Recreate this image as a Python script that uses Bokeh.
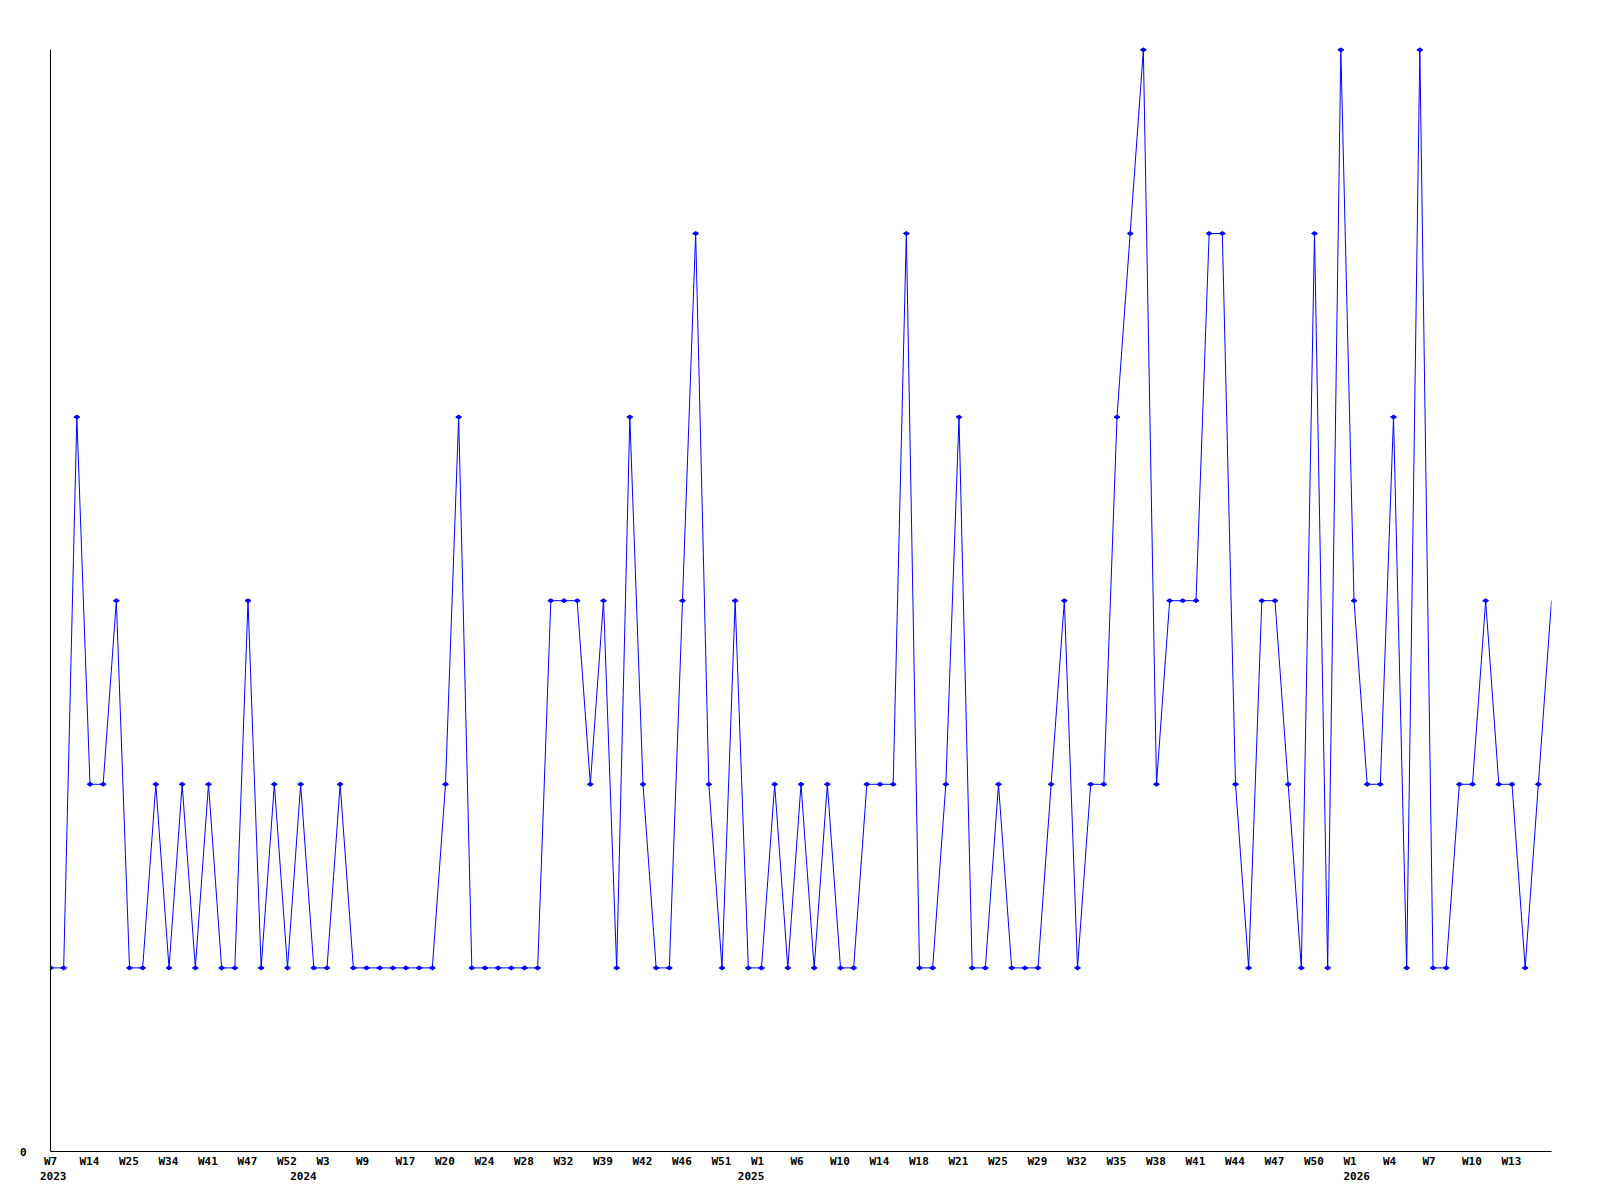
import math
from bokeh.plotting import figure
from bokeh.models import Range1d, LinearAxis, FixedTicker
from bokeh.embed import file_html
from bokeh.resources import INLINE

# ---- data ----
values = [
    1, 1, 4, 2, 2, 3, 1, 1, 2, 1, 2, 1, 2, 1, 1, 3, 1, 2, 1, 2,
    1, 1, 2, 1, 1, 1, 1, 1, 1, 1, 2, 4, 1, 1, 1, 1, 1, 1, 3, 3,
    3, 2, 3, 1, 4, 2, 1, 1, 3, 5, 2, 1, 3, 1, 1, 2, 1, 2, 1, 2,
    1, 1, 2, 2, 2, 5, 1, 1, 2, 4, 1, 1, 2, 1, 1, 1, 2, 3, 1, 2,
    2, 4, 5, 6, 2, 3, 3, 3, 5, 5, 2, 1, 3, 3, 2, 1, 5, 1, 6, 3,
    2, 2, 4, 1, 6, 1, 1, 2, 2, 3, 2, 2, 1, 2, 3,
]
week_labels = [
    "W7", "W14", "W25", "W34", "W41", "W47", "W52", "W3", "W9", "W17",
    "W20", "W24", "W28", "W32", "W39", "W42", "W46", "W51", "W1", "W6",
    "W10", "W14", "W18", "W21", "W25", "W29", "W32", "W35", "W38", "W41",
    "W44", "W47", "W50", "W1", "W4", "W7", "W10", "W13",
]
week_label_step = 3
year_labels = ["2023", "2024", "2025", "2026"]
year_label_index = [0, 19, 53, 99]
y_max_value = 6

# ---- layout / style ----
FRAME_W = 1501
FRAME_H = 1111
FONT = "DejaVu Sans Mono"
FONT_PX = 11
BLUE = "#0000ff"

n = len(values)
xs = list(range(n))
x_end = n - 1
y_top = y_max_value * 1.0085

p = figure(
    frame_width=FRAME_W, frame_height=FRAME_H,
    x_range=Range1d(0, x_end), y_range=Range1d(0, y_top),
    x_axis_type=None, y_axis_type=None,
    output_backend="svg", toolbar_location=None,
    min_border_left=50, min_border_top=40, min_border_right=41, min_border_bottom=41,
    background_fill_color="white", border_fill_color="white",
)
p.outline_line_color = None

px_per_unit = FRAME_W / x_end


def label_pos(i, text):
    # labels are left aligned ~10.5px left of their point (kept inside the axis range)
    s = (-10.5 + 0.602 * FONT_PX * len(text) / 2) / px_per_unit
    return round(max(0.0, i + s), 6)


week_ticks = []
week_over = {}
for k, lbl in enumerate(week_labels):
    t = label_pos(k * week_label_step, lbl)
    week_ticks.append(t)
    week_over[t] = lbl

year_ticks = []
year_over = {}
for idx, lbl in zip(year_label_index, year_labels):
    t = label_pos(idx, lbl)
    year_ticks.append(t)
    year_over[t] = lbl


def style_axis(ax):
    ax.major_tick_in = 0
    ax.major_tick_out = 0
    ax.minor_tick_in = 0
    ax.minor_tick_out = 0
    ax.major_label_text_font = FONT
    ax.major_label_text_font_style = "bold"
    ax.major_label_text_font_size = f"{FONT_PX}px"
    ax.major_label_text_color = "black"
    ax.axis_line_color = "black"
    ax.axis_line_width = 1


yax = LinearAxis(ticker=FixedTicker(ticks=[0]), bounds=(0, y_max_value))
style_axis(yax)
yax.major_label_standoff = 24
p.add_layout(yax, "left")

# x axis line only
lax = LinearAxis(ticker=FixedTicker(ticks=[]), bounds=(0, x_end))
style_axis(lax)
lax.major_label_standoff = 0
p.add_layout(lax, "below")

# week labels
wax = LinearAxis(ticker=FixedTicker(ticks=week_ticks), major_label_overrides=week_over)
style_axis(wax)
wax.axis_line_color = None
wax.major_label_standoff = 3
p.add_layout(wax, "below")

# year labels
yrax = LinearAxis(ticker=FixedTicker(ticks=year_ticks), major_label_overrides=year_over)
style_axis(yrax)
yrax.axis_line_color = None
yrax.major_label_standoff = 1
p.add_layout(yrax, "below")

p.line(xs, values, line_color=BLUE, line_width=1)
p.scatter(xs[:-1], values[:-1], marker="diamond", size=6, angle=math.pi / 2,
          fill_color=BLUE, line_color=BLUE, line_width=1)

open("out.html", "w").write(file_html(p, INLINE))
